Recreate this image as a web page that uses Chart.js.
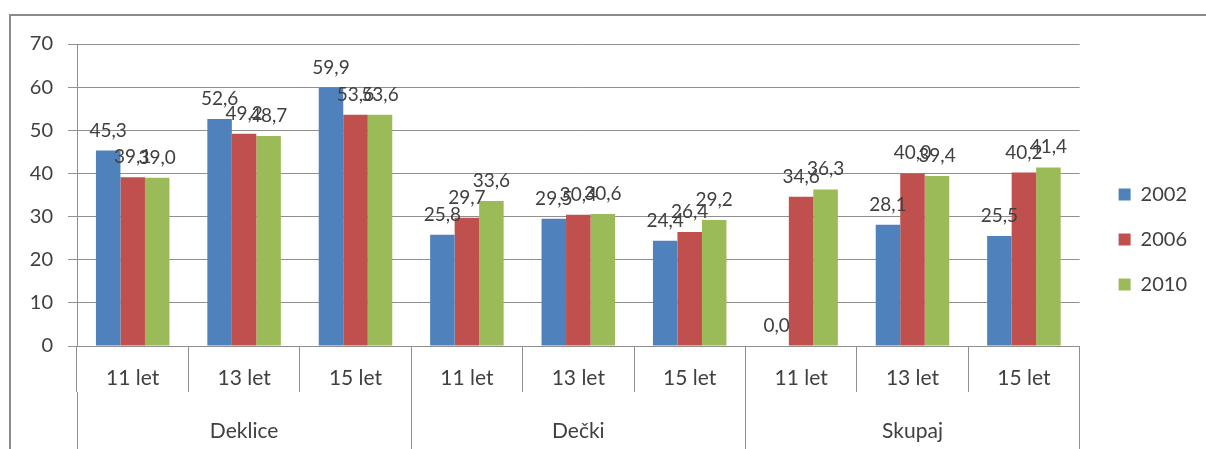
<!DOCTYPE html>
<html>
<head>
<meta charset="utf-8">
<script src="https://cdn.jsdelivr.net/npm/chart.js@4/dist/chart.umd.min.js"></script>
<style>
  body { margin: 0; background: #fff; }
  #wrap { position: relative; width: 1206px; height: 449px; overflow: hidden; }
  #frame { position: absolute; left: 9px; top: 14px; width: 1300px; height: 500px;
           border-top: 2px solid #8a8a8a; border-left: 2px solid #8a8a8a; pointer-events: none; }
</style>
</head>
<body>
<div id="wrap">
  <canvas id="chart" width="1206" height="449"></canvas>
  <div id="frame"></div>
</div>
<script>
const ages = ["11 let", "13 let", "15 let", "11 let", "13 let", "15 let", "11 let", "13 let", "15 let"];
const groups = ["Deklice", "Dečki", "Skupaj"];
const years = ["2002", "2006", "2010"];
const v2002 = [45.3, 52.6, 59.9, 25.8, 29.5, 24.4, 0.0, 28.1, 25.5];
const v2006 = [39.1, 49.2, 53.6, 29.7, 30.4, 26.4, 34.6, 40.0, 40.2];
const v2010 = [39.0, 48.7, 53.6, 33.6, 30.6, 29.2, 36.3, 39.4, 41.4];
const yMin = 0, yMax = 70, yStep = 10;

const colors = ["#4F81BD", "#C0504D", "#9BBB59"];
const gridColor = "#8f8f8f";
const textColor = "#404040";

Chart.defaults.font.family = "Lato, 'Open Sans', sans-serif";
Chart.defaults.color = textColor;

// value labels above each bar, decimal comma
const barLabels = {
    id: "barLabels",
    afterDatasetsDraw(chart) {
        const ctx = chart.ctx;
        ctx.save();
        ctx.font = "19px Lato, 'Open Sans', sans-serif";
        ctx.fillStyle = textColor;
        ctx.textAlign = "center";
        ctx.textBaseline = "alphabetic";
        chart.data.datasets.forEach((ds, i) => {
            chart.getDatasetMeta(i).data.forEach((bar, j) => {
                const txt = ds.data[j].toFixed(1).replace(".", ",");
                ctx.fillText(txt, bar.x, bar.y - 14);
            });
        });
        ctx.restore();
    },
};

new Chart(document.getElementById("chart"), {
    type: "bar",
    data: {
        labels: ages,
        datasets: [
            { label: years[0], data: v2002, backgroundColor: colors[0] },
            { label: years[1], data: v2006, backgroundColor: colors[1] },
            { label: years[2], data: v2010, backgroundColor: colors[2] },
        ],
    },
    options: {
        responsive: false,
        animation: false,
        categoryPercentage: 0.66,
        barPercentage: 1,
        layout: { padding: { top: 30, right: 9, left: 0, bottom: 0 } },
        plugins: {
            tooltip: { enabled: false },
            // empty title only reserves space above the plot
            title: { display: true, text: "", padding: 0, font: { size: 10, lineHeight: 1.4 } },
            legend: {
                position: "right",
                labels: {
                    boxWidth: 12,
                    boxHeight: 12,
                    padding: 25,
                    font: { size: 20 },
                    color: textColor,
                },
            },
        },
        scales: {
            y: {
                min: yMin,
                max: yMax,
                ticks: { stepSize: yStep, padding: 15, font: { size: 20 } },
                grid: { color: gridColor, tickLength: 9 },
                border: { color: gridColor },
                afterFit: (s) => { s.width = 77; },
            },
            gap: {
                position: "right",
                display: true,
                grid: { display: false },
                ticks: { display: false },
                border: { display: false },
                afterFit: (s) => { s.width = 14; },
            },
            x: {
                offset: true,
                grid: { offset: true, drawOnChartArea: false, tickLength: 46, color: gridColor },
                border: { color: gridColor },
                ticks: { padding: -26, font: { size: 21 } },
                afterFit: (s) => { s.height = 46; },
            },
            x2: {
                type: "category",
                labels: groups,
                position: "bottom",
                offset: true,
                grid: { offset: true, drawOnChartArea: false, tickLength: 60, color: gridColor },
                border: { display: false },
                ticks: { padding: -33, font: { size: 21 } },
                afterFit: (s) => { s.height = 57; },
            },
        },
    },
    plugins: [barLabels],
});
</script>
</body>
</html>
